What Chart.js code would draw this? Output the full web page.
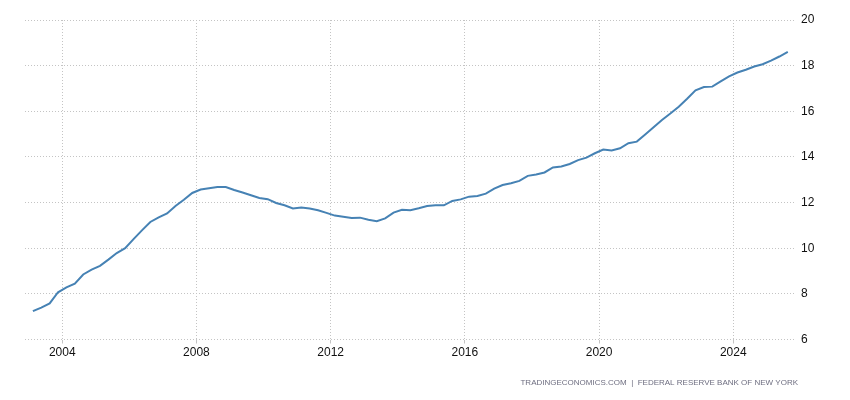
<!DOCTYPE html>
<html>
<head>
<meta charset="utf-8">
<script src="https://cdn.jsdelivr.net/npm/chart.js@4/dist/chart.umd.min.js"></script>
<style>
  html, body { margin: 0; padding: 0; background: #fff; }
  canvas { display: block; }
</style>
</head>
<body>
<canvas id="chart" width="850" height="400"></canvas>
<script>
// US household debt, trillions USD, quarterly from 2003 Q1
const startYear = 2003;
const debtValues = [
  7.24, 7.40, 7.58, 8.07,   // 2003
  8.28, 8.45, 8.85, 9.06,   // 2004
  9.23, 9.50, 9.79, 10.00,  // 2005
  10.40, 10.78, 11.15, 11.35, // 2006
  11.52, 11.85, 12.12, 12.42, // 2007
  12.57, 12.63, 12.68, 12.68, // 2008
  12.55, 12.44, 12.32, 12.20, // 2009
  12.15, 11.98, 11.88, 11.74, // 2010
  11.78, 11.74, 11.66, 11.55, // 2011
  11.43, 11.38, 11.32, 11.34, // 2012
  11.25, 11.18, 11.31, 11.56, // 2013
  11.68, 11.66, 11.75, 11.85, // 2014
  11.88, 11.88, 12.07, 12.14, // 2015
  12.26, 12.29, 12.39, 12.61, // 2016
  12.77, 12.85, 12.95, 13.17, // 2017
  13.23, 13.32, 13.54, 13.58, // 2018
  13.69, 13.86, 13.97, 14.16, // 2019
  14.32, 14.28, 14.38, 14.60, // 2020
  14.67, 14.98, 15.30, 15.62, // 2021
  15.90, 16.20, 16.55, 16.92, // 2022
  17.06, 17.08, 17.31, 17.53, // 2023
  17.70, 17.82, 17.96, 18.06, // 2024
  18.22, 18.40, 18.60         // 2025
];
const yearTicks = [2004, 2008, 2012, 2016, 2020, 2024];
const sourceText = "TRADINGECONOMICS.COM  |  FEDERAL RESERVE BANK OF NEW YORK";

// middle of each quarter as a decimal year
const points = debtValues.map((v, i) => ({
  x: startYear + Math.floor(i / 4) + ((i % 4) + 0.5) / 4,
  y: v,
}));

const gridColor = "#c4c4c4";
const tickFont = { family: "Arial, 'Liberation Sans', sans-serif", size: 12 };

const sourcePlugin = {
  id: "source",
  afterDraw(chart) {
    const c = chart.ctx;
    c.save();
    c.font = "8px Arial, 'Liberation Sans', sans-serif";
    c.fillStyle = "#6e6e80";
    c.textAlign = "right";
    c.textBaseline = "middle";
    c.fillText(sourceText, chart.chartArea.right + 2, 383);
    c.restore();
  },
};

new Chart(document.getElementById("chart"), {
  type: "line",
  data: {
    datasets: [
      {
        label: "Household Debt",
        data: points,
        borderColor: "#4682b4",
        backgroundColor: "#4682b4",
        borderWidth: 2,
        pointRadius: 0,
        tension: 0,
      },
    ],
  },
  options: {
    responsive: false,
    animation: false,
    layout: { padding: { left: 25, top: 20, right: 0, bottom: 0 } },
    plugins: {
      legend: { display: false },
      tooltip: { enabled: false },
    },
    scales: {
      x: {
        type: "linear",
        min: 2002.89,
        max: 2025.87,
        afterBuildTicks: axis => axis.ticks = yearTicks.map(v => ({ value: v })),
        afterFit: scale => { scale.height = 60.5; },
        grid: { color: gridColor, tickLength: 4, tickColor: gridColor },
        border: { display: false, dash: [1, 2] },
        ticks: {
          color: "#111",
          font: tickFont,
          padding: 2,
          maxRotation: 0,
          callback: v => String(v),
        },
      },
      y: {
        position: "right",
        min: 6,
        max: 20,
        afterFit: scale => { scale.width = 54; },
        grid: { color: gridColor, drawTicks: false },
        border: { display: false, dash: [1, 2] },
        ticks: {
          stepSize: 2,
          color: "#111",
          font: tickFont,
          padding: 5,
        },
      },
    },
  },
  plugins: [sourcePlugin],
});
</script>
</body>
</html>
